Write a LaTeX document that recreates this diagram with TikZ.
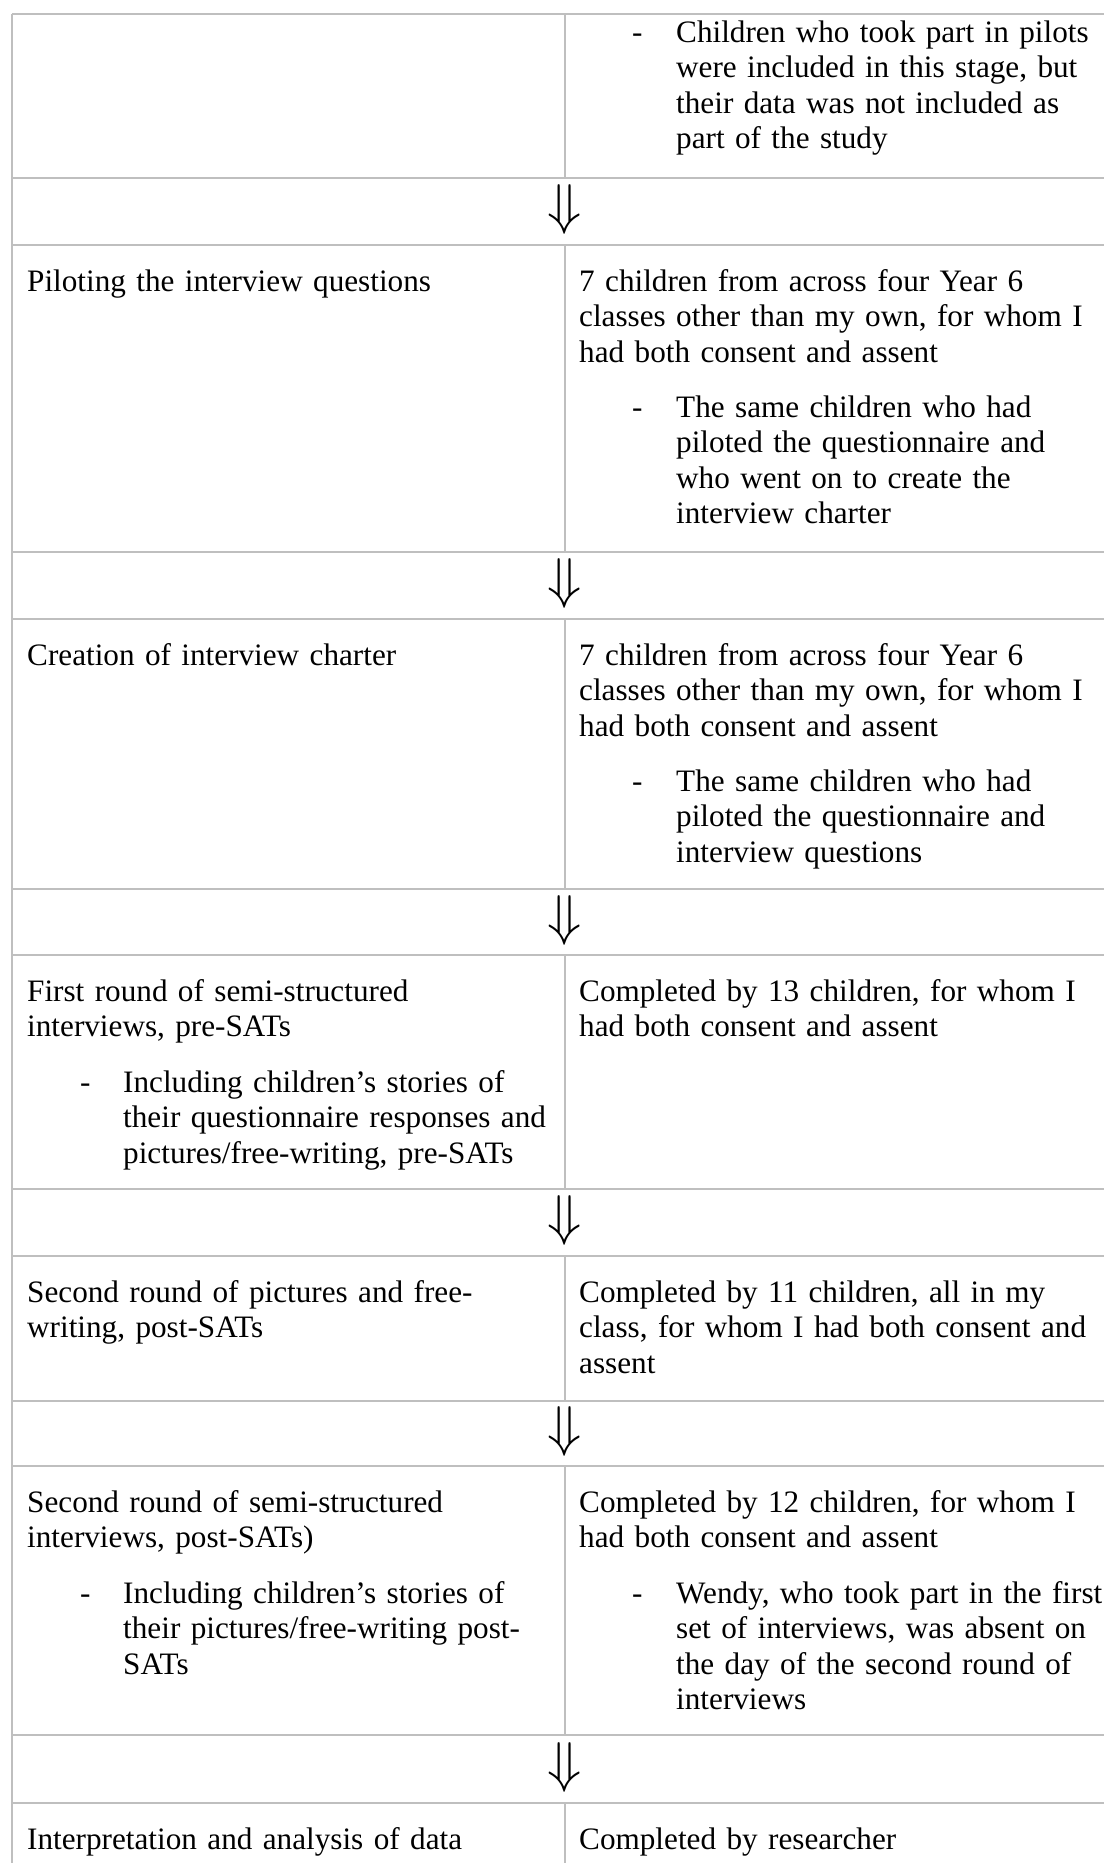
\documentclass[tikz,border=0pt]{standalone}
\usepackage{fontspec}
\setmainfont{Liberation Serif}
\usepackage{amsmath,amssymb}
\usepackage{tikz}

\tikzset{
  rule/.style={draw=black!25, line width=1.3pt},
  txt/.style={anchor=base west, inner sep=0pt, align=left, text width=520pt, font=\fontsize{31.2}{35.6}\selectfont},
  downarr/.style={inner sep=0pt, scale=5.6},
}

\begin{document}
\begin{tikzpicture}[x=1pt,y=-1pt]
  \useasboundingbox (0,0) rectangle (1104,1863);
  % table rules
  \foreach \y in {14,178,245,552,619,889,955,1189,1256,1401,1466,1735,1803}
    \draw[rule] (12,\y) -- (1104,\y);
  \draw[rule] (12,14) -- (12,1863);
  \foreach \a/\b in {14/178,245/552,619/889,955/1189,1256/1401,1466/1735,1803/1863}
    \draw[rule] (565,\a) -- (565,\b);
  % arrows between the stages
  \foreach \y [count=\i] in {211.5,585.5,922,1222.5,1433.5,1769}
    \node[downarr] (arr\i) at (565,\y-2) {$\Downarrow$};

  % rest of the pilots
  \node[txt] (pilotd) at (632,42) {-};
  \node[txt] (pilotn) at (676,42) {Children who took part in pilots\\were included in this stage, but\\their data was not included as\\part of the study};

  % piloting the interview questions
  \node[txt] (piloting) at (27,291) {Piloting the interview questions};
  \node[txt] (pilotwho) at (579,291) {7 children from across four Year 6\\classes other than my own, for whom I\\had both consent and assent};
  \node[txt] (pilotwd) at (632,417) {-};
  \node[txt] (pilotwn) at (676,417) {The same children who had\\piloted the questionnaire and\\who went on to create the\\interview charter};

  % interview charter
  \node[txt] (charter) at (27,665) {Creation of interview charter};
  \node[txt] (charterwho) at (579,665) {7 children from across four Year 6\\classes other than my own, for whom I\\had both consent and assent};
  \node[txt] (charterwd) at (632,791) {-};
  \node[txt] (charterwn) at (676,791) {The same children who had\\piloted the questionnaire and\\interview questions};

  % first round
  \node[txt] (first) at (27,1001) {First round of semi-structured\\interviews, pre-SATs};
  \node[txt] (firstd) at (80,1092) {-};
  \node[txt] (firstn) at (123,1092) {Including children’s stories of\\their questionnaire responses and\\pictures/free-writing, pre-SATs};
  \node[txt] (firstwho) at (579,1001) {Completed by 13 children, for whom I\\had both consent and assent};

  % second round of pictures
  \node[txt] (pictures) at (27,1302) {Second round of pictures and free-\\writing, post-SATs};
  \node[txt] (pictureswho) at (579,1302) {Completed by 11 children, all in my\\class, for whom I had both consent and\\assent};

  % second round of interviews
  \node[txt] (second) at (27,1512) {Second round of semi-structured\\interviews, post-SATs)};
  \node[txt] (secondd) at (80,1603) {-};
  \node[txt] (secondn) at (123,1603) {Including children’s stories of\\their pictures/free-writing post-\\SATs};
  \node[txt] (secondwho) at (579,1512) {Completed by 12 children, for whom I\\had both consent and assent};
  \node[txt] (secondwd) at (632,1603) {-};
  \node[txt] (secondwn) at (676,1603) {Wendy, who took part in the first\\set of interviews, was absent on\\the day of the second round of\\interviews};

  % analysis
  \node[txt] (analysis) at (27,1849) {Interpretation and analysis of data};
  \node[txt] (analysiswho) at (579,1849) {Completed by researcher};
\end{tikzpicture}
\end{document}
